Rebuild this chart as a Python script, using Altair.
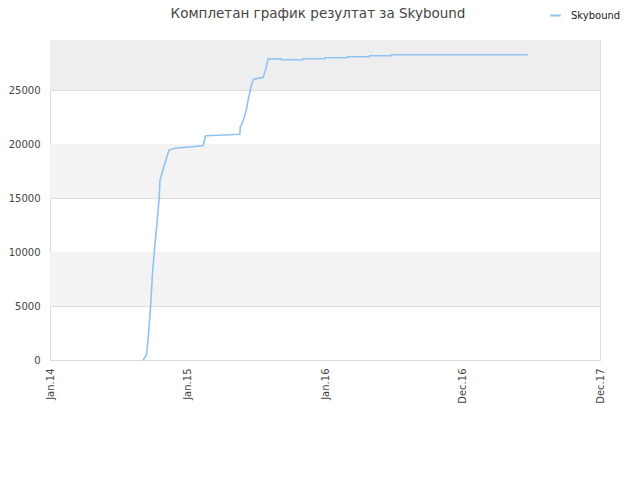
import altair as alt
import pandas as pd

# --- data ---
dates = [
    "2014-09-05", "2014-09-14", "2014-09-19", "2014-09-25", "2014-09-30",
    "2014-10-06", "2014-10-12", "2014-10-18", "2014-10-20", "2014-10-24",
    "2014-11-02", "2014-11-13", "2014-11-28", "2015-01-12", "2015-02-11",
    "2015-02-18", "2015-04-06", "2015-05-20", "2015-05-21", "2015-05-25",
    "2015-06-01", "2015-06-07", "2015-06-11", "2015-06-16", "2015-06-20",
    "2015-06-25", "2015-07-21", "2015-07-27", "2015-08-03", "2015-09-06",
    "2015-09-07", "2015-11-03", "2015-11-04", "2015-12-31", "2016-01-01",
    "2016-02-28", "2016-02-29", "2016-04-27", "2016-04-28", "2016-06-24",
    "2016-06-25", "2017-06-22",
]
scores = [
    0, 460, 2150, 4940, 8030,
    10500, 12650, 15120, 16670, 17130,
    18210, 19440, 19600, 19750, 19843,
    20769, 20833, 20898, 21602, 21824,
    22528, 23306, 24074, 24843, 25528,
    25991, 26176, 26852, 27870, 27898,
    27806, 27806, 27898, 27898, 27991,
    27991, 28083, 28083, 28176, 28176,
    28269, 28269,
]
series_name = "Skybound"
title_text = ["Комплетан график резултат за Skybound"]
y_ticks = [0, 5000, 10000, 15000, 20000, 25000]
band_lo = [5000, 15000]
band_hi = [10000, 20000]
top_lo = [25000]
top_hi = [29630]

df = pd.DataFrame({"date": dates, "score": scores, "series": series_name})
bands = pd.DataFrame({"lo": band_lo, "hi": band_hi})
top_band = pd.DataFrame({"lo": top_lo, "hi": top_hi})
title_df = pd.DataFrame({"t": title_text})

W, H = 550, 320
YMAX = 29630
FONT = "DejaVu Sans"

x_dom = [alt.DateTime(year=2014, month=1, date=1, utc=True),
         alt.DateTime(year=2017, month=12, date=31, utc=True)]
x_vals = [alt.DateTime(year=2014, month=1, date=1, utc=True),
          alt.DateTime(year=2015, month=1, date=1, utc=True),
          alt.DateTime(year=2016, month=1, date=1, utc=True),
          alt.DateTime(year=2016, month=12, date=31, utc=True),
          alt.DateTime(year=2017, month=12, date=31, utc=True)]

yscale = alt.Scale(domain=[0, YMAX], nice=False)
yaxis = alt.Axis(values=y_ticks, format="d", title=None, grid=True, gridColor="#dddddd",
                 ticks=False, domain=False, labelFont=FONT, labelFontSize=10,
                 labelColor="#444444", labelPadding=10)

band_layer = alt.Chart(bands).mark_rect(color="#f3f3f3").encode(
    x=alt.value(0), x2=alt.value(W),
    y=alt.Y("lo:Q", scale=yscale, axis=yaxis),
    y2="hi:Q",
)
top_layer = alt.Chart(top_band).mark_rect(color="#eeeeee").encode(
    x=alt.value(0), x2=alt.value(W),
    y=alt.Y("lo:Q", scale=yscale, axis=yaxis),
    y2="hi:Q",
)

line = alt.Chart(df).mark_line(strokeWidth=1.6).encode(
    x=alt.X("date:T",
            scale=alt.Scale(type="utc", domain=x_dom),
            axis=alt.Axis(values=x_vals, format="%b.%y", labelAngle=270,
                          title=None, grid=False, ticks=False, domain=False,
                          labelFont=FONT, labelFontSize=10, labelColor="#444444",
                          labelPadding=8, labelAlign="right", labelBaseline="middle")),
    y=alt.Y("score:Q", scale=yscale, axis=yaxis),
    color=alt.Color("series:N", scale=alt.Scale(range=["#8fc3f2"]),
                    legend=alt.Legend(title=None, orient="none", legendX=499, legendY=-31,
                                      symbolType="stroke", symbolStrokeWidth=2,
                                      symbolSize=110, labelOffset=9, labelFont=FONT,
                                      labelFontSize=10, labelColor="#222222")),
)

title_layer = alt.Chart(title_df).mark_text(
    font=FONT, fontSize=13.5, color="#444444", align="center", baseline="alphabetic"
).encode(
    x=alt.value(268), y=alt.value(-22), text="t:N"
)

chart = alt.layer(band_layer, top_layer, line, title_layer).properties(
    width=W, height=H,
    autosize=alt.AutoSizeParams(type="none"),
    padding={"left": 42, "top": 32, "right": 30, "bottom": 100},
).configure_view(stroke="#dddddd").configure(background="white")

chart.save("out.html", embed_options={"renderer": "svg", "actions": False})
